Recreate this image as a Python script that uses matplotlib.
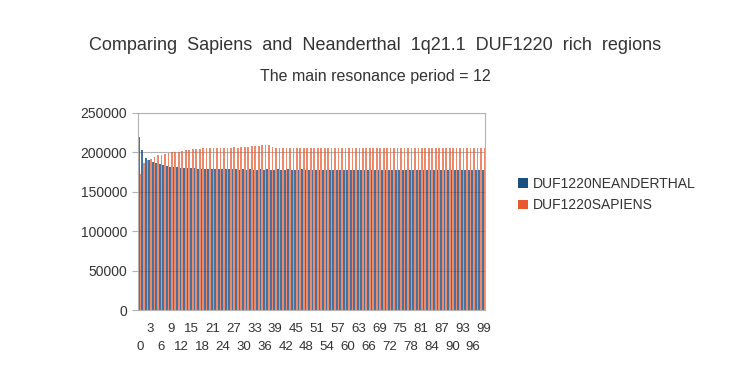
import matplotlib
matplotlib.use("Agg")
import matplotlib.pyplot as plt
import numpy as np

categories = list(range(100))

neanderthal = [
    220000, 203000, 193000, 190000, 188000, 186000, 185000, 184000, 183000, 182000,
    181500, 181000, 180500, 180000, 180000, 179500, 179500, 179000, 179000, 179000,
    179000, 178500, 179000, 178500, 178500, 179000, 178500, 178500, 178500, 178000,
    178500, 178000, 178500, 178000, 178000, 178500, 178000, 178500, 178000, 178000,
    178500, 178000, 178000, 178500, 178000, 178000, 178000, 178500, 178000, 178000,
    177500, 178000, 177500, 177500, 178000, 177500, 177500, 177500, 178000, 177500,
    177500, 178000, 177500, 177500, 178000, 177500, 177500, 178000, 177500, 177500,
    178000, 177500, 177500, 178000, 177500, 177500, 178000, 177500, 177500, 177500,
    178000, 177500, 177500, 177500, 178000, 177500, 177500, 177500, 178000, 177500,
    177500, 177500, 178000, 177500, 177500, 177500, 177500, 177500, 177500, 177500,
]

sapiens = [
    172000, 186000, 190000, 192000, 194000, 196000, 197000, 198000, 199000, 200000,
    200500, 201000, 202000, 203000, 203500, 204000, 204000, 204500, 205000, 205000,
    205500, 205000, 205500, 206000, 205500, 206000, 206000, 206500, 206000, 206500,
    207000, 207000, 207500, 208000, 208500, 209000, 209500, 209000, 206500, 206000,
    205500, 206000, 205500, 205500, 206000, 205500, 205500, 206000, 205500, 205500,
    205000, 205500, 205000, 205500, 205000, 205000, 205500, 205000, 205000, 205500,
    205000, 205000, 205500, 205000, 205000, 205500, 205000, 205000, 205500, 205000,
    205000, 205500, 205000, 205000, 205500, 205000, 205000, 205000, 205500, 205000,
    205000, 205000, 205500, 205000, 205000, 205000, 205500, 205000, 205000, 205000,
    205500, 205000, 205000, 205000, 205000, 205500, 205000, 205000, 205000, 205000,
]

yticks = [0, 50000, 100000, 150000, 200000, 250000]
upper_ticks = list(range(3, 100, 6))   # 3, 9, 15, ... 99
lower_ticks = list(range(0, 100, 6))   # 0, 6, 12, ... 96

title = "Comparing  Sapiens  and  Neanderthal  1q21.1  DUF1220  rich  regions"
subtitle = "The main resonance period = 12"
series_names = ["DUF1220NEANDERTHAL", "DUF1220SAPIENS"]
colors = ["#1a4f82", "#e8592e"]

plt.rcParams['font.family'] = ['Liberation Sans', 'DejaVu Sans']

fig = plt.figure(figsize=(7.5, 3.75), dpi=100)
ax = fig.add_axes([0.184, 0.173, 0.463, 0.526])

x = np.array(categories)
w = 0.5
ax.bar(x - w / 2, neanderthal, width=w, color=colors[0], alpha=0.8, label=series_names[0], linewidth=0)
ax.bar(x + w / 2, sapiens, width=w, color=colors[1], alpha=0.7, label=series_names[1], linewidth=0)

ax.set_xlim(-0.5, len(categories) - 0.5)
ax.set_ylim(0, 250000)
ax.set_yticks(yticks)
ax.set_yticklabels([str(v) for v in yticks], fontsize=10, color="#333333")
ax.yaxis.grid(True, color="#b3b3b3", linewidth=0.8)
ax.set_axisbelow(True)

ax.set_xticks(upper_ticks)
ax.set_xticklabels([str(p) for p in upper_ticks], fontsize=9.5, color="#333333")
ax.set_xticks(lower_ticks, minor=True)
ax.set_xticklabels([str(p) for p in lower_ticks], minor=True, fontsize=9.5, color="#333333")
ax.tick_params(axis='x', which='major', length=0, pad=9)
ax.tick_params(axis='x', which='minor', length=0, pad=22)
ax.tick_params(axis='y', length=4, color="#b3b3b3", pad=4)

for s in ["top", "right", "left", "bottom"]:
    ax.spines[s].set_color("#b3b3b3")
    ax.spines[s].set_linewidth(0.8)

fig.text(0.5, 0.878, title, ha="center", va="center", fontsize=13, color="#333333")
fig.text(0.5, 0.797, subtitle, ha="center", va="center", fontsize=11.5, color="#333333")

handles, lbls = ax.get_legend_handles_labels()
leg = fig.legend(handles, lbls, loc="upper left", bbox_to_anchor=(0.674, 0.562), frameon=False,
                 fontsize=10, handlelength=0.7, handleheight=0.7, handletextpad=0.4,
                 labelspacing=0.55, labelcolor="#333333")
for lh, c in zip(leg.legend_handles, colors):
    lh.set_alpha(1.0)
    lh.set_facecolor(c)

fig.savefig("out.png", dpi=100, facecolor="white")
